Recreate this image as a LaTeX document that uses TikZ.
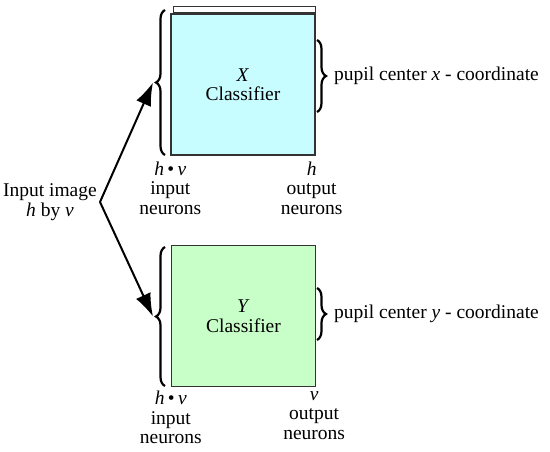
\documentclass[tikz,border=0pt]{standalone}
\usepackage{fontspec}
\setmainfont{Liberation Serif}
\usetikzlibrary{positioning,arrows.meta,decorations.pathreplacing}
\definecolor{xfill}{RGB}{200,253,255}
\definecolor{yfill}{RGB}{200,255,200}

\begin{document}
\begin{tikzpicture}[x=1pt, y=-1pt, font=\fontsize{19.5}{19.5}\selectfont,
    classbox/.style={draw=black!80, line width=1.3pt, minimum width=144pt, minimum height=141pt, inner sep=0pt, align=center},
    lbl/.style={align=center, inner sep=0pt},
    bracepath/.style={decorate, decoration={brace, amplitude=9pt}, line width=2.2pt},
    feed/.style={line width=2pt, -{Latex[length=23pt, width=16pt]}}]
    \useasboundingbox (0,0) rectangle (550,451);

    % boxes
    \node [classbox, fill=xfill] (cx) at (243,84.5) {\textit{X}\\Classifier};
    \node [draw=black!80, line width=0.9pt, minimum width=142pt, minimum height=6pt, inner sep=0pt, anchor=south east] (cxtop) at (cx.north east) {};
    \node [classbox, fill=yfill] (cy) at (243.5,316) {\textit{Y}\\Classifier};

    % neurons
    \node [lbl, below=6pt of cx.south west] (cxin) {\textit{h}\,\textbullet\,\textit{v}\\input\\neurons};
    \node [lbl, below=6pt of cx.south east, xshift=-4pt] (cxout) {\textit{h}\\output\\neurons};
    \node [lbl, below=4pt of cy.south west] (cyin) {\textit{h}\,\textbullet\,\textit{v}\\input\\neurons};
    \node [lbl, below=4pt of cy.south east, xshift=-2pt] (cyout) {\textit{v}\\output\\neurons};

    % braces
    \draw [bracepath] (165,155) -- (165,10) coordinate[midway, xshift=-12pt] (bx);
    \draw [bracepath] (165,386) -- (165,247) coordinate[midway, xshift=-12pt] (by);
    \draw [bracepath] (317,40) -- (317,112) coordinate[midway, xshift=12pt] (rx);
    \draw [bracepath] (317,288) -- (317,340) coordinate[midway, xshift=12pt] (ry);

    \node [lbl, right=5pt of rx] (px) {pupil center \textit{x} - coordinate};
    \node [lbl, right=5pt of ry] (py) {pupil center \textit{y} - coordinate};

    % input
    \coordinate (split) at (100,202);
    \node [lbl, left=3pt of split] (in) {Input image\\\textit{h} by \textit{v}};
    \draw [feed] (split) -- (bx);
    \draw [feed] (split) -- (by);
\end{tikzpicture}
\end{document}
